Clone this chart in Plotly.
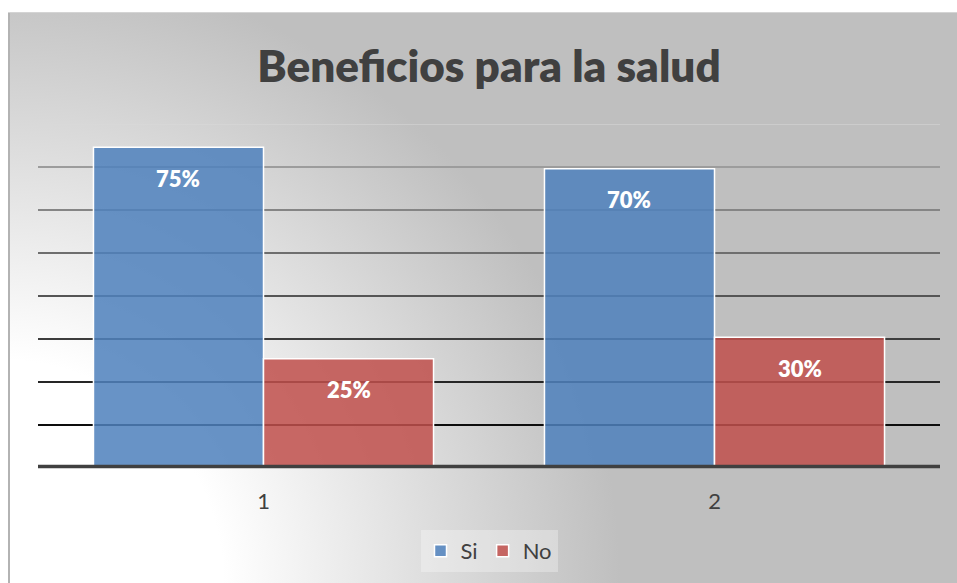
import base64
import plotly.graph_objects as go

# ---- data ----
categories = [1, 2]
tick_labels = ["1", "2"]
si_values = [0.746, 0.696]
no_values = [0.254, 0.304]
series_names = ["Si", "No"]
grid_values = [0.1, 0.2, 0.3, 0.4, 0.5, 0.6, 0.7, 0.8]
grid_colors = ["#0d0d0d", "#262626", "#3d3d3d", "#555555", "#6e6e6e", "#858585", "#9c9c9c", "#d9d9d9"]

# ---- geometry ----
W, H = 957, 583
ML, MR, MT, MB = 38, 17, 124, 115
plot_w = W - ML - MR
plot_h = H - MT - MB
BARGAP = 0.246
bar_w = (1 - BARGAP) / 2

# background gradient (chart area) as an SVG image
bx0, by0, bx1, by1 = 8, 12, 962, 592
bw, bh = bx1 - bx0, by1 - by0
svg = (
    f"<svg xmlns='http://www.w3.org/2000/svg' width='{bw}' height='{bh}' viewBox='0 0 {bw} {bh}' preserveAspectRatio='none'>"
    "<defs><radialGradient id='g' gradientUnits='userSpaceOnUse' cx='-8' cy='571' r='620'>"
    "<stop offset='0' stop-color='#ffffff'/><stop offset='0.36' stop-color='#ffffff'/>"
    "<stop offset='1' stop-color='#bfbfbf'/></radialGradient></defs>"
    f"<rect x='0' y='0' width='{bw}' height='{bh}' fill='url(#g)'/>"
    f"<line x1='1' y1='0' x2='1' y2='{bh}' stroke='#b3b3b3' stroke-width='2'/>"
    f"<line x1='0' y1='0.5' x2='{bw}' y2='0.5' stroke='#d4d4d4' stroke-width='1'/>"
    "</svg>"
)
svg_uri = "data:image/svg+xml;base64," + base64.b64encode(svg.encode()).decode()

FONT = "Lato"
TXT = "#404040"

fig = go.Figure()
fig.add_trace(go.Bar(
    x=categories, y=si_values, name=series_names[0],
    marker=dict(color="rgba(79,129,189,0.86)", line=dict(color="white", width=1.5)),
    hoverinfo="skip",
))
fig.add_trace(go.Bar(
    x=categories, y=no_values, name=series_names[1],
    marker=dict(color="rgba(192,80,77,0.86)", line=dict(color="white", width=1.5)),
    hoverinfo="skip",
))

# data labels
annotations = []
for vals, sign in ((si_values, -1), (no_values, 1)):
    for c, v in zip(categories, vals):
        annotations.append(dict(
            x=c + sign * bar_w / 2, y=v, xref="x", yref="y",
            text=f"{round(v * 100)}%", showarrow=False,
            yanchor="middle", yshift=-31,
            font=dict(family=FONT, size=22, color="white", weight=800),
        ))

shapes = []
for gv, gc in zip(grid_values, grid_colors):
    shapes.append(dict(type="line", xref="paper", x0=0, x1=1, yref="y", y0=gv, y1=gv,
                       line=dict(color=gc, width=1 if gv == grid_values[-1] else 2), layer="below"))
# category axis baseline
shapes.append(dict(type="line", xref="paper", x0=0, x1=1, yref="paper", y0=0.004, y1=0.004,
                   line=dict(color="#404040", width=3.5), layer="above"))

fig.update_layout(
    width=W, height=H,
    margin=dict(l=ML, r=MR, t=MT, b=MB, pad=0),
    paper_bgcolor="white",
    plot_bgcolor="rgba(0,0,0,0)",
    barmode="group", bargap=BARGAP, bargroupgap=0,
    title=dict(text="Beneficios para la salud", x=0.5, xref="paper", xanchor="center",
               y=1 - 67 / H, yref="container", yanchor="middle",
               font=dict(family=FONT, size=44, color=TXT, weight=800)),
    xaxis=dict(range=[0.5, 2.5], tickvals=categories, ticktext=tick_labels, showgrid=False,
               zeroline=False, showline=False, ticks="", ticklabelstandoff=18,
               tickfont=dict(family=FONT, size=22, color=TXT), fixedrange=True),
    yaxis=dict(range=[0, 0.8], showgrid=False, zeroline=False, showticklabels=False,
               showline=False, ticks="", fixedrange=True),
    legend=dict(orientation="h", x=0.5, xanchor="center", y=1 - 551 / H, yref="container",
                yanchor="middle", bgcolor="rgba(255,255,255,0.3)",
                font=dict(family=FONT, size=22, color=TXT), itemclick=False, itemdoubleclick=False),
    images=[dict(source=svg_uri, xref="paper", yref="paper",
                 x=(bx0 - ML) / plot_w, y=(H - MB - by0) / plot_h,
                 sizex=bw / plot_w, sizey=bh / plot_h,
                 xanchor="left", yanchor="top", sizing="stretch", layer="below")],
    shapes=shapes,
    annotations=annotations,
    showlegend=True,
)

fig.write_html("out.html", config={"displayModeBar": False},
               post_script="document.body.style.margin='0';document.body.style.overflow='hidden';")
